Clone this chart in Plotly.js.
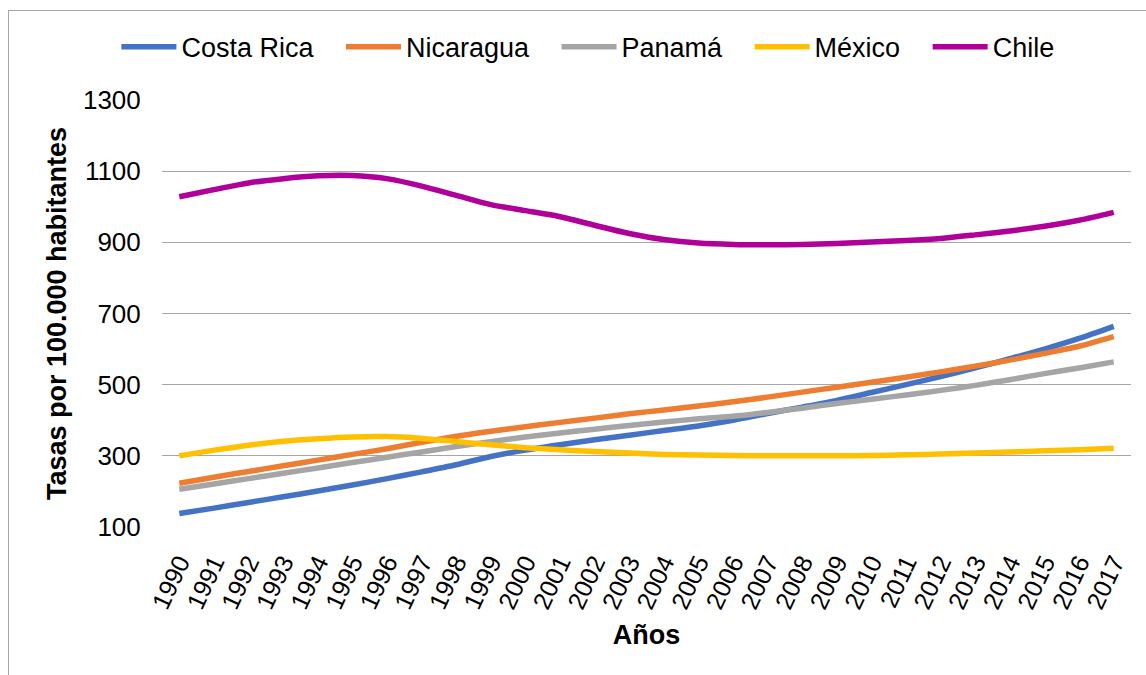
<!DOCTYPE html>
<html>
<head>
<meta charset="utf-8">
<script src="https://cdn.plot.ly/plotly-3.0.1.min.js"></script>
<style>
  html, body { margin: 0; padding: 0; background: #fff; overflow: hidden; }
  #wrap { position: relative; width: 1146px; height: 675px; }
  #chart { position: absolute; left: 0; top: 0; width: 1146px; height: 675px; }
  #frame { position: absolute; left: 8px; top: 10px; width: 1160px; height: 700px; border: 1px solid #a6a6a6; pointer-events: none; }
</style>
</head>
<body>
<div id="wrap">
  <div id="chart"></div>
  <div id="frame"></div>
</div>
<script>
const years = ['1990','1991','1992','1993','1994','1995','1996','1997','1998','1999','2000','2001','2002','2003','2004','2005','2006','2007','2008','2009','2010','2011','2012','2013','2014','2015','2016','2017'];

const costaRica = [138,153,169,185,201,218,236,255,275,298,316,331,345,358,371,384,400,419,437,456,478,500,523,547,573,600,630,664];
const nicaragua = [223,240,256,272,288,304,320,338,355,369,382,394,406,418,429,440,452,465,479,493,507,521,536,552,569,588,608,635];
const panama    = [206,221,236,251,266,281,296,311,326,340,353,364,375,385,395,404,411,422,434,447,459,471,484,498,514,531,547,564];
const mexico    = [300,316,330,341,348,353,354,349,340,331,323,317,312,308,304,302,301,300,300,300,301,303,305,308,311,314,317,321];
const chile     = [1028,1048,1067,1079,1087,1088,1079,1058,1032,1006,989,972,948,925,908,898,894,893,894,897,901,905,911,921,932,945,962,984];

const seriesNames = ['Costa Rica','Nicaragua','Panamá','México','Chile'];
const seriesData = [costaRica, nicaragua, panama, mexico, chile];
const seriesColors = ['#4472C4','#ED7D31','#A5A5A5','#FFC000','#B0009A'];

const font = 'Arial, "Liberation Sans", sans-serif';
const pad = '\u00a0\u00a0\u00a0';

const traces = seriesNames.map((n, i) => ({
  type: 'scatter',
  mode: 'lines',
  name: i < seriesNames.length - 1 ? n + pad : n,
  x: years,
  y: seriesData[i],
  line: { color: seriesColors[i], width: 5.5, shape: 'spline', smoothing: 0.8 },
  hoverinfo: 'skip'
}));

const layout = {
  width: 1146,
  height: 675,
  paper_bgcolor: 'rgba(0,0,0,0)',
  plot_bgcolor: '#ffffff',
  margin: { l: 162, r: 15, t: 100, b: 148 },
  font: { family: font, color: '#000000', size: 26 },
  showlegend: true,
  legend: {
    orientation: 'h',
    xref: 'container', x: 0.513, xanchor: 'center',
    yref: 'container', y: 0.930, yanchor: 'middle',
    font: { family: font, size: 27, color: '#000' },
    itemwidth: 55,
    tracegroupgap: 0
  },
  xaxis: {
    type: 'category',
    range: [-0.5, 27.5],
    showgrid: false,
    zeroline: false,
    showline: false,
    ticks: 'outside', ticklen: 10, tickcolor: 'rgba(0,0,0,0)',
    tickangle: -65,
    tickfont: { family: font, size: 25, color: '#000' },
    title: { text: '<b>Años</b>', font: { family: font, size: 27, color: '#000' }, standoff: 12 },
    fixedrange: true
  },
  yaxis: {
    range: [100, 1300],
    tickvals: [100, 300, 500, 700, 900, 1100, 1300],
    ticktext: ['100','300','500','700','900','1100','1300'],
    showgrid: true,
    gridcolor: '#A6A6A6',
    gridwidth: 1,
    zeroline: false,
    showline: false,
    ticks: 'outside', ticklen: 15, tickcolor: 'rgba(0,0,0,0)',
    tickfont: { family: font, size: 26, color: '#000' },
    title: { text: '<b>Tasas por 100.000 habitantes</b>', font: { family: font, size: 27, color: '#000' }, standoff: 8 },
    fixedrange: true
  }
};

Plotly.newPlot('chart', traces, layout, { displayModeBar: false, staticPlot: true });
</script>
</body>
</html>
